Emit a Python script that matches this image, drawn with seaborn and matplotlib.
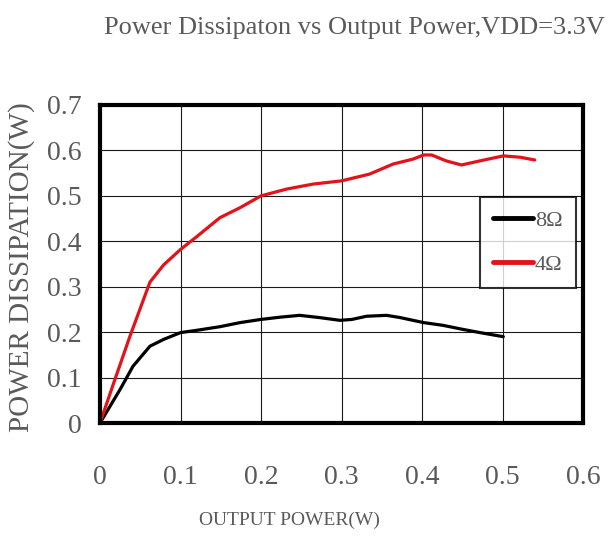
import pandas as pd
import matplotlib
matplotlib.use("Agg")
import matplotlib.pyplot as plt
import seaborn as sns

# data
x_4ohm = [0, 0.017, 0.037, 0.062, 0.079, 0.10, 0.12, 0.149, 0.174, 0.20, 0.232,
          0.265, 0.30, 0.335, 0.364, 0.389, 0.402, 0.412, 0.43, 0.449, 0.472,
          0.501, 0.522, 0.54]
y_4ohm = [0, 0.088, 0.19, 0.31, 0.348, 0.382, 0.41, 0.452, 0.474, 0.50, 0.515,
          0.526, 0.533, 0.548, 0.57, 0.581, 0.59, 0.59, 0.577, 0.568, 0.577,
          0.588, 0.585, 0.579]
x_8ohm = [0, 0.025, 0.041, 0.062, 0.079, 0.10, 0.12, 0.149, 0.174, 0.20, 0.224,
          0.248, 0.273, 0.298, 0.313, 0.331, 0.356, 0.373, 0.402, 0.426, 0.451,
          0.472, 0.501]
y_8ohm = [0, 0.074, 0.125, 0.169, 0.184, 0.199, 0.204, 0.212, 0.221, 0.228, 0.233,
          0.237, 0.232, 0.226, 0.228, 0.235, 0.237, 0.232, 0.221, 0.215, 0.206,
          0.199, 0.19]

x_ticks = [0, 0.1, 0.2, 0.3, 0.4, 0.5, 0.6]
x_tick_labels = ["0", "0.1", "0.2", "0.3", "0.4", "0.5", "0.6"]
y_ticks = [0, 0.1, 0.2, 0.3, 0.4, 0.5, 0.6, 0.7]
y_tick_labels = ["0", "0.1", "0.2", "0.3", "0.4", "0.5", "0.6", "0.7"]

df = pd.concat([
    pd.DataFrame({"P_out": x_8ohm, "P_diss": y_8ohm, "load": "8Ω"}),
    pd.DataFrame({"P_out": x_4ohm, "P_diss": y_4ohm, "load": "4Ω"}),
], ignore_index=True)

sns.set_style("white")
plt.rcParams["font.family"] = ["Liberation Serif", "DejaVu Serif"]
txt_color = "#5a5a5a"

fig = plt.figure(figsize=(6.15, 5.39), dpi=100)
ax = fig.add_axes([0.1626, 0.2152, 0.7854, 0.59])

sns.lineplot(data=df, x="P_out", y="P_diss", hue="load",
             palette={"8Ω": "black", "4Ω": "#e3121b"},
             linewidth=2.3, ax=ax, sort=False)

ax.set_xlim(0, 0.6)
ax.set_ylim(0, 0.7)
ax.set_xticks(x_ticks)
ax.set_xticklabels(x_tick_labels)
ax.set_yticks(y_ticks)
ax.set_yticklabels(y_tick_labels)
ax.tick_params(axis="both", length=0, labelsize=20, labelcolor=txt_color)
ax.tick_params(axis="x", pad=30)
ax.tick_params(axis="y", pad=13)
ax.grid(True, color="#1a1a1a", linewidth=0.8)
for s in ax.spines.values():
    s.set_visible(True)
    s.set_color("black")
    s.set_linewidth(3)

ax.set_xlabel("OUTPUT POWER(W)", fontsize=14, color=txt_color)
ax.xaxis.set_label_coords(0.393, -0.28)
ax.set_ylabel("POWER DISSIPATION(W)", fontsize=21, color=txt_color)
ax.yaxis.set_label_coords(-0.135, 0.49)

fig.text(0.577, 0.948, "Power Dissipaton vs Output Power,VDD=3.3V",
         fontsize=19, color=txt_color, ha="center", va="center")

leg = ax.legend(loc="upper right", bbox_to_anchor=(0.9855, 0.711),
                borderaxespad=0, fancybox=False, edgecolor="black",
                fontsize=16, handlelength=1.8, handletextpad=0.1,
                borderpad=0.6, labelspacing=1.05, title=None)
leg.get_frame().set_linewidth(1.5)
for t in leg.get_texts():
    t.set_color(txt_color)
for h in leg.legend_handles:
    h.set_linewidth(3.5)

fig.savefig("out.png", dpi=100)
